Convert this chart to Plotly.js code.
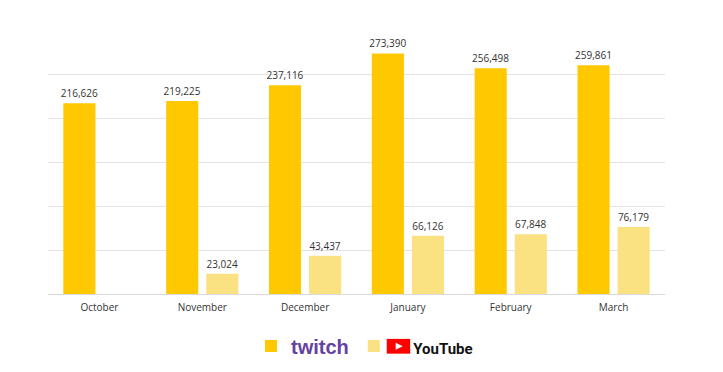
<!DOCTYPE html>
<html><head><meta charset="utf-8">
<script src="https://cdn.plot.ly/plotly-3.0.1.min.js"></script>
<style>html,body{margin:0;padding:0;background:#fff;}#chart{width:723px;height:372px;}</style>
</head><body><div id="chart"></div>
<script>
const months = ["October","November","December","January","February","March"];
const twitch = [216626, 219225, 237116, 273390, 256498, 259861];
const youtube = [null, 23024, 43437, 66126, 67848, 76179];
const gridVals = [50000, 100000, 150000, 200000, 250000];

const fmt = v => v == null ? "" : v.toLocaleString("en-US");
const labelFont = {family: "Open Sans, sans-serif", size: 10, color: "#333"};

const traces = [
  {type: "bar", x: months, y: twitch, name: "<b>twitch</b>",
   marker: {color: "#FFC800"}, text: twitch.map(fmt), textposition: "outside",
   constraintext: "none", textfont: labelFont, cliponaxis: false, hoverinfo: "skip"},
  {type: "bar", x: months, y: youtube,
   name: "<span style='font-size:14px'>\u00A0\u00A0\u00A0\u00A0\u00A0</span><span style='color:#111;font-size:15px;font-family:Roboto, Liberation Sans, sans-serif'><b>YouTube</b></span>",
   marker: {color: "#FAE282"}, text: youtube.map(fmt), textposition: "outside",
   constraintext: "none", textfont: labelFont, cliponaxis: false, hoverinfo: "skip"}
];

const layout = {
  width: 723, height: 372,
  margin: {l: 48, r: 58, t: 30, b: 78, autoexpand: false},
  paper_bgcolor: "#fff", plot_bgcolor: "#fff",
  barmode: "group", bargap: 0.22, bargroupgap: 0.2,
  showlegend: true,
  legend: {orientation: "h", x: 0.329, xanchor: "left", y: -0.197, yanchor: "middle",
    bgcolor: "rgba(0,0,0,0)",
    font: {family: "Liberation Sans, sans-serif", size: 20, color: "#6441A4"},
    traceorder: "normal"},
  xaxis: {showgrid: false, showline: true, linecolor: "#d9d9d9", linewidth: 1,
    ticks: "", ticklabelstandoff: 4,
    tickfont: {family: "Open Sans, sans-serif", size: 10, color: "#333"}},
  yaxis: {range: [0, 300000], tickvals: gridVals, showticklabels: false,
    showgrid: true, gridcolor: "#e3e3e3", gridwidth: 1, zeroline: false, showline: false},
  shapes: [
    {type: "rect", xref: "paper", yref: "paper", x0: 0.549, x1: 0.587, y0: -0.226, y1: -0.170,
     fillcolor: "#FF0000", line: {width: 0}},
    {type: "path", xref: "paper", yref: "paper",
     path: "M 0.5635 -0.185 L 0.5635 -0.211 L 0.575 -0.198 Z",
     fillcolor: "#FFFFFF", line: {width: 0}}
  ]
};

Plotly.newPlot("chart", traces, layout, {displayModeBar: false, staticPlot: true});
</script></body></html>
